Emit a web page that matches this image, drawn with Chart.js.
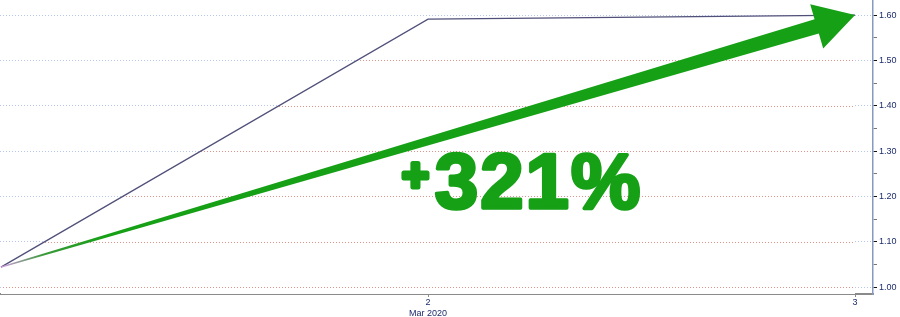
<!DOCTYPE html>
<html>
<head>
<meta charset="utf-8">
<script src="https://cdn.jsdelivr.net/npm/chart.js@4/dist/chart.umd.min.js"></script>
<style>
  html, body { margin: 0; padding: 0; background: #fff; }
  #wrap { width: 900px; height: 317px; position: relative; }
</style>
</head>
<body>
<div id="wrap"><canvas id="chart"></canvas></div>
<script>
// Data
const days = [1, 2, 3];
const values = [1.044, 1.591, 1.600];
const xTickValues = [2, 3];
const xTickLabels = [['2', 'Mar 2020'], '3'];
const changeLabel = '321%';

const green = '#16a016';
const navy = '#1c2c6c';

// red dotted grid below the line, blue above it
const belowGrid = {
  id: 'belowGrid',
  beforeDatasetsDraw(chart) {
    const { ctx, chartArea, scales: { y } } = chart;
    const pts = chart.getDatasetMeta(0).data;
    ctx.save();
    ctx.beginPath();
    ctx.moveTo(pts[0].x, chartArea.bottom);
    pts.forEach(p => ctx.lineTo(p.x, p.y));
    ctx.lineTo(pts[pts.length - 1].x, chartArea.bottom);
    ctx.closePath();
    ctx.clip();
    ctx.fillStyle = '#fff';
    ctx.fill();
    ctx.strokeStyle = '#e0958c';
    ctx.lineWidth = 1;
    ctx.setLineDash([1, 2]);
    y.ticks.forEach(t => {
      if (!isMajor(t.value)) return;
      const py = Math.round(y.getPixelForValue(t.value)) + 0.5;
      ctx.beginPath();
      ctx.moveTo(chartArea.left, py);
      ctx.lineTo(chartArea.right, py);
      ctx.stroke();
    });
    ctx.restore();
  }
};

// green arrow from first to last point, plus the label
const arrow = {
  id: 'arrow',
  afterDatasetsDraw(chart) {
    const { ctx, chartArea } = chart;
    const pts = chart.getDatasetMeta(0).data;
    const a = pts[0], b = pts[pts.length - 1];
    const dx = b.x - a.x, dy = b.y - a.y;
    const len = Math.hypot(dx, dy);
    const ux = dx / len, uy = dy / len;
    const nx = -uy, ny = ux;
    const headLen = 40, headW = 23, shaftW = 7.5, startW = 0.6;
    const bx = b.x - ux * headLen, by = b.y - uy * headLen;

    const grad = ctx.createLinearGradient(a.x, a.y, b.x, b.y);
    grad.addColorStop(0, '#d49ae0');
    grad.addColorStop(0.05, '#3a9a3a');
    grad.addColorStop(0.12, green);
    grad.addColorStop(1, green);

    ctx.save();
    ctx.fillStyle = grad;
    ctx.beginPath();
    ctx.moveTo(a.x + nx * startW, a.y + ny * startW);
    ctx.lineTo(bx + nx * shaftW, by + ny * shaftW);
    ctx.lineTo(bx + nx * headW, by + ny * headW);
    ctx.lineTo(b.x, b.y);
    ctx.lineTo(bx - nx * headW, by - ny * headW);
    ctx.lineTo(bx - nx * shaftW, by - ny * shaftW);
    ctx.lineTo(a.x - nx * startW, a.y - ny * startW);
    ctx.closePath();
    ctx.fill();

    // label
    const w = chartArea.right - chartArea.left;
    const tx = chartArea.left + w * 0.498;
    const ty = chartArea.top + (chartArea.bottom - chartArea.top) * 0.707;
    ctx.fillStyle = green;
    ctx.strokeStyle = green;
    ctx.lineJoin = 'round';
    ctx.textBaseline = 'alphabetic';
    ctx.textAlign = 'left';
    ctx.letterSpacing = '2px';
    ctx.font = 'bold 78px "Liberation Sans", Arial, sans-serif';
    ctx.lineWidth = 3.5;
    ctx.fillText(changeLabel, tx, ty);
    ctx.strokeText(changeLabel, tx, ty);
    ctx.letterSpacing = '0px';
    ctx.font = 'bold 46px "Liberation Sans", Arial, sans-serif';
    ctx.lineWidth = 5;
    ctx.textAlign = 'right';
    ctx.fillText('+', tx - 6, ty - 17);
    ctx.strokeText('+', tx - 6, ty - 17);
    ctx.restore();
  }
};

function isMajor(v) {
  return Math.abs(Math.round(v * 10) - v * 10) < 1e-6;
}

new Chart(document.getElementById('chart'), {
  type: 'line',
  data: {
    datasets: [{
      data: days.map((d, i) => ({ x: d, y: values[i] })),
      borderColor: '#50507a',
      borderWidth: 1.3,
      pointRadius: 0,
      tension: 0,
      fill: false
    }]
  },
  options: {
    responsive: true,
    maintainAspectRatio: false,
    animation: false,
    layout: { padding: 0 },
    plugins: { legend: { display: false }, tooltip: { enabled: false } },
    scales: {
      x: {
        type: 'linear',
        min: 0.9977,
        max: 3.042,
        afterBuildTicks: (scale) => { scale.ticks = xTickValues.map(v => ({ value: v })); },
        afterFit: (scale) => {
          scale.height = 23;
          scale.paddingLeft = 0;
          scale.paddingRight = 0;
        },
        ticks: {
          autoSkip: false,
          maxRotation: 0,
          padding: 0,
          color: navy,
          font: { family: '"Liberation Sans", Arial, sans-serif', size: 9 },
          callback: (v) => {
            const i = xTickValues.indexOf(v);
            return i >= 0 ? xTickLabels[i] : '';
          }
        },
        grid: { drawOnChartArea: false, drawTicks: true, tickLength: 3, tickColor: '#8a8a8a' },
        border: { color: '#8a8a8a', width: 2 }
      },
      y: {
        position: 'right',
        min: 0.9846,
        max: 1.6332,
        afterFit: (scale) => {
          scale.width = 27;
          scale.paddingTop = 0;
          scale.paddingBottom = 0;
        },
        ticks: {
          stepSize: 0.05,
          includeBounds: false,
          padding: 2,
          color: navy,
          font: { family: '"Liberation Sans", Arial, sans-serif', size: 9 },
          callback: (v) => isMajor(v) ? v.toFixed(2) : ''
        },
        grid: {
          color: (c) => isMajor(c.tick.value) ? '#b8c8f0' : 'rgba(0,0,0,0)',
          tickColor: (c) => isMajor(c.tick.value) ? '#111' : '#777',
          tickLength: 4,
          lineWidth: 1
        },
        border: { color: '#8898c0', width: 1.5, dash: [1, 2] }
      }
    }
  },
  plugins: [belowGrid, arrow]
});
</script>
</body>
</html>
